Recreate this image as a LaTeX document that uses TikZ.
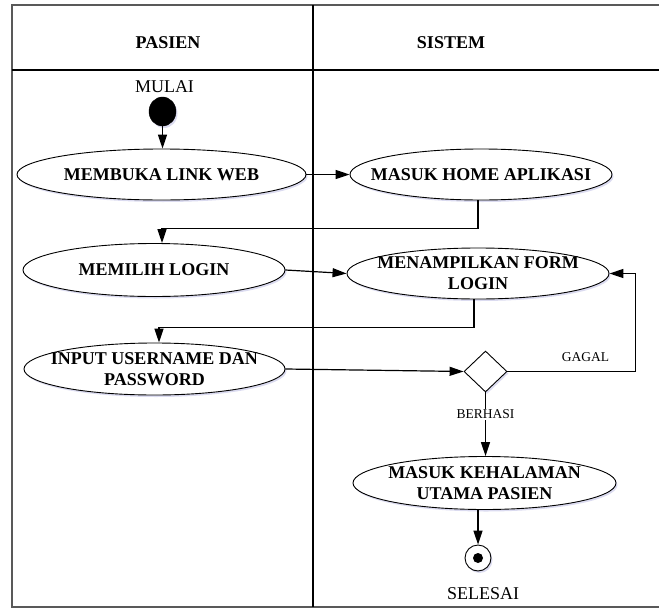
\documentclass[tikz,border=0pt]{standalone}
\usepackage{fontspec}
\setmainfont{Liberation Serif}
\usetikzlibrary{shapes.geometric,arrows.meta,shadows}
\begin{document}
\begin{tikzpicture}[x=1pt,y=-1pt,
  shd/.style={drop shadow={shadow xshift=1.5pt,shadow yshift=-2pt,fill=blue!40!gray,opacity=0.2}},
  act/.style={ellipse,draw=black,line width=0.9pt,fill=white,inner sep=0pt,shd},
  txt/.style={inner sep=0pt,align=center,font=\fontsize{18}{21}\selectfont\bfseries},
  hdr/.style={inner sep=0pt,font=\fontsize{18}{21}\selectfont\bfseries},
  plain/.style={inner sep=0pt,font=\fontsize{18}{21}\selectfont},
  small/.style={inner sep=1pt,font=\fontsize{13.5}{16}\selectfont},
  arr/.style={draw=black,line width=1.2pt,-{Triangle[length=14pt,width=9pt]}},
  frame/.style={draw=black!65,line width=1.2pt},
  lane/.style={draw=black,line width=1.2pt}]
\useasboundingbox (0,0) rectangle (659,608);
% frame and lanes
\draw[frame] (659,5) -- (12,5) -- (12,607) -- (659,607);
\draw[lane] (12,70) -- (659,70);
\draw[lane] (313,5) -- (313,607);
\node[hdr] (hp) at (168,43) {PASIEN};
\node[hdr] (hs) at (451,43) {SISTEM};
% nodes
\node[plain] (mulai) at (164.5,87) {MULAI};
\node[ellipse,fill=black,draw=black,minimum width=27pt,minimum height=29pt,inner sep=0pt,shd] (start) at (162.5,111.5) {};
\node[act,minimum width=289pt,minimum height=51pt,label={[txt]center:MEMBUKA LINK WEB}] (e1) at (161.5,174.5) {};
\node[act,minimum width=262pt,minimum height=51pt,label={[txt]center:MASUK HOME APLIKASI}] (e2) at (481,174.5) {};
\node[act,minimum width=262pt,minimum height=53pt,label={[txt]center:MEMILIH LOGIN}] (e3) at (154,270) {};
\node[act,minimum width=262pt,minimum height=51pt,label={[txt]center:MENAMPILKAN FORM\\LOGIN}] (e4) at (478,273.5) {};
\node[act,minimum width=261pt,minimum height=52pt,label={[txt]center:INPUT USERNAME DAN\\PASSWORD}] (e5) at (154.5,369) {};
\node[diamond,draw=black,line width=0.9pt,fill=white,minimum width=43pt,minimum height=41pt,inner sep=0pt,shd] (d) at (485.5,371.5) {};
\node[act,minimum width=263pt,minimum height=53pt,label={[txt]center:MASUK KEHALAMAN\\UTAMA PASIEN}] (e6) at (484.5,483) {};
\node[circle,draw=black,line width=0.9pt,fill=white,minimum size=26pt,inner sep=0pt,shd] (end) at (478,558) {};
\node[circle,fill=black,minimum size=10pt,inner sep=0pt] (enddot) at (end.center) {};
\node[plain] (selesai) at (483,594) {SELESAI};
% connectors
\draw[arr] (start.south) -- (start.south |- e1.north);
\draw[arr] (e1.east) -- (e2.west);
\draw[arr] ([xshift=-3pt]e2.south) -- ++(0,28) -| ([xshift=8pt]e3.north);
\draw[arr] (e3.east) -- (e4.west);
\draw[arr] ([xshift=-4pt]e4.south) -- ++(0,28) -| ([xshift=4.5pt]e5.north);
\draw[arr] (e5.east) -- (d.west);
\draw[arr] (d.east) -- ++(128,0) |- (e4.east);
\node[small,inner sep=0pt] (gagal) at (585.5,357) {GAGAL};
\draw[arr] (d.south) -- (d.south |- e6.north) node[small,pos=0.34,fill=white] (berhasi) {BERHASI};
\draw[arr] (end.north |- e6.south) -- (end.north);
\end{tikzpicture}
\end{document}
